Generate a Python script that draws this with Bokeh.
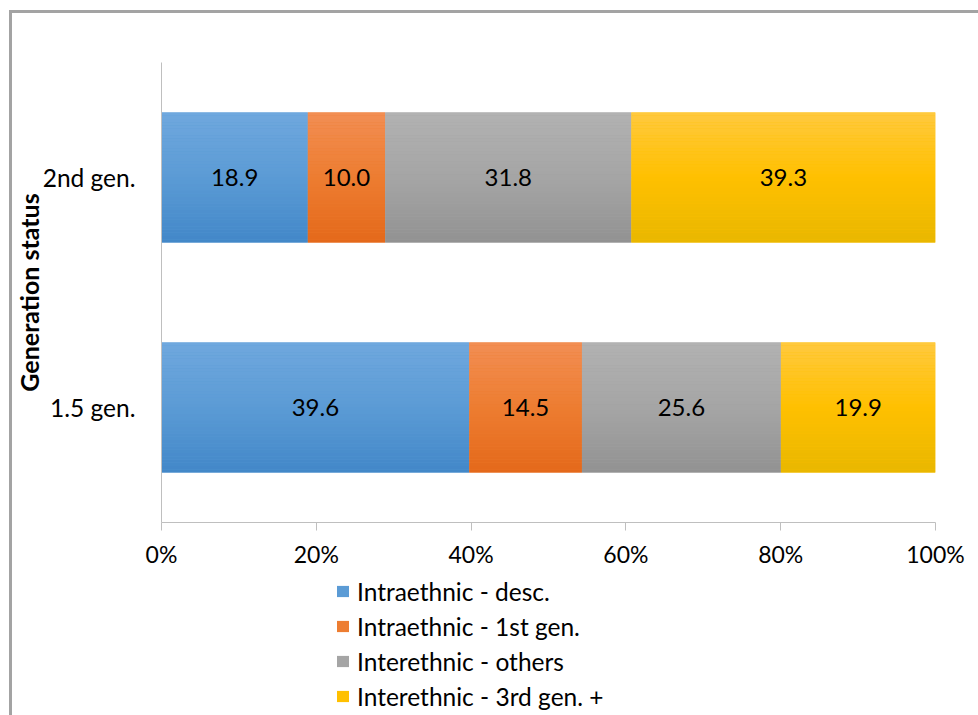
from bokeh.plotting import figure
from bokeh.layouts import column
from bokeh.models import (ColumnDataSource, FactorRange, Range1d, NumeralTickFormatter,
                          Legend, LegendItem, InlineStyleSheet)
from bokeh.transform import dodge
from bokeh.core.properties import value
from bokeh.embed import file_html
from bokeh.resources import INLINE

# ---- data -------------------------------------------------------------
generations = ["1.5 gen.", "2nd gen."]
series_names = ["Intraethnic - desc.", "Intraethnic - 1st gen.",
                "Interethnic - others", "Interethnic - 3rd gen. +"]
intra_desc = [39.6, 18.9]
intra_first = [14.5, 10.0]
inter_others = [25.6, 31.8]
inter_third = [19.9, 39.3]
x_ticks = [0, 0.2, 0.4, 0.6, 0.8, 1.0]

# ---- styling ----------------------------------------------------------
# vertical gradient stops per series: (top, middle, bottom)
gradients = [
    ((112, 168, 222), (91, 155, 213), (66, 135, 200)),
    ((242, 142, 84), (237, 125, 49), (228, 104, 26)),
    ((178, 178, 178), (165, 165, 165), (146, 146, 146)),
    ((255, 201, 64), (255, 192, 0), (232, 183, 0)),
]
FONT = "Lato"
BAR_H = 0.565
N_STRIPS = 40
CHART_H = 576
LEGEND_H = 715 - CHART_H


def hexcol(rgb):
    return "#%02x%02x%02x" % tuple(int(round(c)) for c in rgb)


def grad_color(stop, t):
    top, mid, bot = stop
    if t <= 0.5:
        a, b, f = top, mid, t / 0.5
    else:
        a, b, f = mid, bot, (t - 0.5) / 0.5
    return hexcol([a[i] + (b[i] - a[i]) * f for i in range(3)])


# ---- stacked, normalised segments ------------------------------------
series_values = [intra_desc, intra_first, inter_others, inter_third]
rows = dict(gen=[], left=[], right=[], center=[], label=[], sidx=[], color=[])
for gi, gen in enumerate(generations):
    total = sum(s[gi] for s in series_values)
    acc = 0.0
    for si, s in enumerate(series_values):
        v = s[gi]
        left = acc / total
        acc += v
        right = acc / total
        rows["gen"].append(gen)
        rows["left"].append(left)
        rows["right"].append(right)
        rows["center"].append((left + right) / 2)
        rows["label"].append("%.1f" % v)
        rows["sidx"].append(si)
        rows["color"].append(hexcol(gradients[si][1]))

base_src = ColumnDataSource(rows)

# grey rule along the top and left of the chart area
top_css = InlineStyleSheet(css="""
:host::after {
  content: ""; position: absolute;
  left: 9px; top: 10px; right: 0; bottom: 0;
  border-left: 3px solid #a3a3a3; border-top: 3px solid #a3a3a3;
  pointer-events: none;
}
""")
bottom_css = InlineStyleSheet(css="""
:host::after {
  content: ""; position: absolute;
  left: 9px; top: 0; right: 0; bottom: 0;
  border-left: 3px solid #a3a3a3;
  pointer-events: none;
}
""")

p = figure(width=978, height=CHART_H, output_backend="svg", toolbar_location=None,
           y_range=FactorRange(factors=generations, range_padding=0),
           x_range=Range1d(0, 1),
           min_border_left=161, min_border_right=43, min_border_top=62,
           min_border_bottom=CHART_H - 522, stylesheets=[top_css])
p.outline_line_color = None
p.background_fill_color = "white"
p.border_fill_color = "white"
p.xgrid.visible = False
p.ygrid.visible = False

# base bars in the middle tone
p.hbar(y="gen", left="left", right="right", height=BAR_H, source=base_src,
       fill_color="color", line_color=None)

# gradient strips, top to bottom
step = BAR_H / N_STRIPS
for k in range(N_STRIPS):
    t = (k + 0.5) / N_STRIPS
    off = BAR_H / 2 - (k + 0.5) * step
    src = ColumnDataSource(dict(
        gen=rows["gen"], left=rows["left"], right=rows["right"],
        color=[grad_color(gradients[si], t) for si in rows["sidx"]],
    ))
    p.hbar(y=dodge("gen", off, range=p.y_range), left="left", right="right",
           height=step * 1.05, source=src, fill_color="color", line_color=None)

# value labels
p.text(x="center", y="gen", text="label", source=base_src,
       text_align="center", text_baseline="middle",
       text_font=value(FONT), text_font_size="24px", text_color="black")

# ---- axes --------------------------------------------------------------
AXIS_GRAY = "#bfbfbf"
xa = p.xaxis[0]
xa.ticker = x_ticks
xa.formatter = NumeralTickFormatter(format="0%")
xa.axis_line_color = AXIS_GRAY
xa.major_tick_line_color = AXIS_GRAY
xa.major_tick_out = 8
xa.major_tick_in = 0
xa.minor_tick_line_color = None
xa.major_label_standoff = 9
xa.major_label_text_font = FONT
xa.major_label_text_font_size = "23px"
xa.major_label_text_color = "black"

ya = p.yaxis[0]
ya.axis_line_color = AXIS_GRAY
ya.major_tick_line_color = None
ya.minor_tick_line_color = None
ya.major_tick_out = 0
ya.major_tick_in = 0
ya.major_label_standoff = 26
ya.major_label_text_font = FONT
ya.major_label_text_font_size = "24.5px"
ya.major_label_text_color = "black"
ya.axis_label = "Generation status"
ya.axis_label_text_font = FONT
ya.axis_label_text_font_style = "bold"
ya.axis_label_text_font_size = "25px"
ya.axis_label_text_color = "black"
ya.axis_label_standoff = -4

# ---- legend strip under the chart ---------------------------------------
lg = figure(width=978, height=LEGEND_H, output_backend="svg", toolbar_location=None,
            x_range=Range1d(0, 1), y_range=Range1d(0, 1),
            x_axis_type=None, y_axis_type=None, min_border=0,
            stylesheets=[bottom_css])
lg.outline_line_color = None
lg.xgrid.visible = False
lg.ygrid.visible = False
# swatch proxies (kept outside the visible range)
key_src = ColumnDataSource(dict(
    y=[-5.0] * len(series_names), left=[0.0] * len(series_names),
    right=[0.1] * len(series_names),
    color=[hexcol(g[1]) for g in gradients]))
keys = lg.hbar(y="y", left="left", right="right", height=0.1, source=key_src,
               fill_color="color", line_color=None)
items = [LegendItem(label=name, renderers=[keys], index=i)
         for i, name in enumerate(series_names)]
legend = Legend(items=items, location=(174, 4), orientation="vertical",
                glyph_width=15, glyph_height=14, label_text_font=FONT,
                label_text_font_size="24.5px", label_text_color="black",
                label_height=30, spacing=5, label_standoff=7, padding=0, margin=0,
                border_line_color=None, background_fill_alpha=0)
lg.add_layout(legend, "center")

page = column(p, lg, spacing=0)
open("out.html", "w").write(file_html(page, INLINE))
